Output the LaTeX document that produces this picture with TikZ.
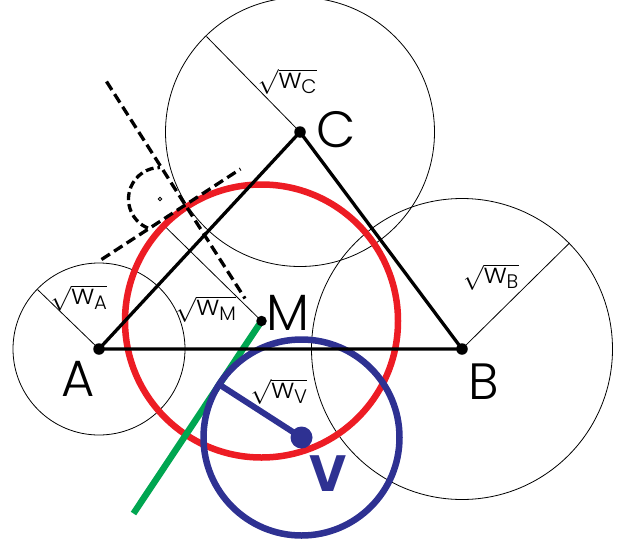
\documentclass[tikz,border=0pt]{standalone}
\usepackage{amsmath}
\usepackage{fontspec}
\setmainfont{Poppins Light}
\newfontfamily\boldv{Poppins Bold}
\usetikzlibrary{calc}
\definecolor{geored}{HTML}{ED1C24}
\definecolor{geogreen}{HTML}{00A651}
\definecolor{geoblue}{HTML}{2E3192}
\begin{document}
\begin{tikzpicture}[x=1pt,y=-1pt,
  weightcircle/.style={draw=black, line width=0.8pt},
  radline/.style={line width=0.8pt},
  tri/.style={line width=3.3pt, line cap=round},
  dashline/.style={line width=3.3pt, dash pattern=on 10pt off 5pt},
  dotnode/.style={circle, fill=black, inner sep=0pt, minimum size=11.5pt},
  lab/.style={inner sep=0pt, font=\fontsize{51}{51}\selectfont},
  wlab/.style={inner sep=0pt, font=\fontsize{28}{28}\selectfont}]
\useasboundingbox (0,0) rectangle (621,549);
% points
\coordinate (A) at (99,349);
\coordinate (B) at (462,349);
\coordinate (C) at (300,132);
\coordinate (M) at (261.5,321);
\coordinate (V) at (301.5,437.5);
\coordinate (rA) at (37.5,289.5);
\coordinate (rB) at (569.5,243);
\coordinate (rC) at (206.5,36.5);
\coordinate (rM) at (163,224.5);
\coordinate (rV) at (220,385);
\coordinate (g1) at (133.5,513.5);
\coordinate (d1a) at (106.5,81.5);
\coordinate (d1b) at (245,298.5);
\coordinate (d2a) at (101.5,259.5);
\coordinate (d2b) at (240.5,169);
\coordinate (O) at (160,199);
% weight circles
\draw[weightcircle] (A) circle[radius=86];
\draw[weightcircle] (B) circle[radius=150.5];
\draw[weightcircle] (C) circle[radius=134.5];
\draw[radline] (A) -- (rA);
\draw[radline] (B) -- (rB);
\draw[radline] (C) -- (rC);
\draw[radline] (M) -- (rM);
% red circle
\draw[geored, line width=6.5pt] (M) circle[radius=136.5];
% green line
\draw[geogreen, line width=6.5pt] (M) -- (g1);
% blue circle
\draw[geoblue, line width=6.5pt] (V) circle[radius=98];
\draw[geoblue, line width=6pt] (V) -- (rV);
% triangle
\draw[tri] (A) -- (B) -- (C) -- cycle;
% dashed lines
\draw[dashline] (d1a) -- (d1b);
\draw[dashline] (d2a) -- (d2b);
\draw[line width=3.3pt, dash pattern=on 8pt off 4pt] ($(O)+(112.5:31.5)$) arc[start angle=112.5, end angle=270, radius=31.5];
\draw[line width=0.8pt] (O) circle[radius=1.8];
% dots
\node[dotnode] (nA) at (A) {};
\node[dotnode] (nB) at (B) {};
\node[dotnode] (nC) at (C) {};
\node[dotnode, minimum size=10.5pt] (nM) at (M) {};
\node[circle, fill=geoblue, inner sep=0pt, minimum size=22pt] (nV) at (V) {};
% labels
\node[lab] (lA) at (78.5,379) {A};
\node[lab] (lB) at (484,381.5) {B};
\node[lab] (lC) at (336.5,130) {C};
\node[lab] (lM) at (287.5,313) {M};
\node[lab, text=geoblue, font=\boldv\fontsize{51}{51}\selectfont] (lV) at (328,473.5) {V};
\node[wlab] (sA) at (79,298) {$\sqrt{\text{w}_{\text{A}}}$};
\node[wlab] (sM) at (206,309) {$\sqrt{\text{w}_{\text{M}}}$};
\node[wlab] (sC) at (287.5,81.5) {$\sqrt{\text{w}_{\text{C}}}$};
\node[wlab] (sB) at (491,277) {$\sqrt{\text{w}_{\text{B}}}$};
\node[wlab] (sV) at (279,391.5) {$\sqrt{\text{w}_{\text{V}}}$};
\end{tikzpicture}
\end{document}
